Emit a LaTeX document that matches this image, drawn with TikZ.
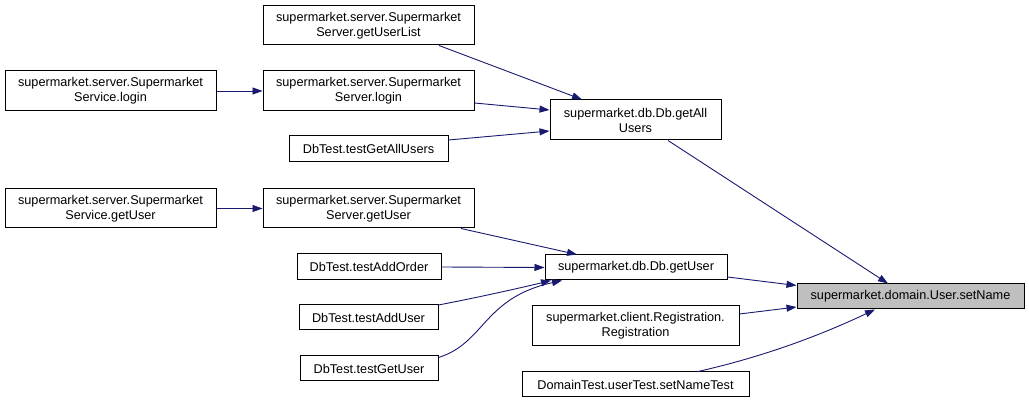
\documentclass[tikz,border=0pt]{standalone}
\usepackage{fontspec}
\setmainfont{Liberation Sans}
\usetikzlibrary{arrows.meta}
\definecolor{edgec}{HTML}{191970}
\definecolor{hl}{HTML}{BFBFBF}
\tikzset{
  box/.style={draw=black, line width=1pt, fill=white, inner sep=0pt, align=center,
    font=\fontsize{12.7}{15}\selectfont},
  cur/.style={box, fill=hl},
  edge/.style={draw=edgec, line width=0.9pt, -{Triangle[length=10pt,width=7pt]}},
}
\begin{document}
\begin{tikzpicture}[x=1pt,y=-1pt]
\useasboundingbox[fill=white] (0,0) rectangle (1029,403);
\node[box, minimum width=211pt, minimum height=39pt] (getUserList) at (368.5,25.5) {supermarket.server.Supermarket\\Server.getUserList};
\node[box, minimum width=211pt, minimum height=40pt] (srvLogin) at (368.5,91) {supermarket.server.Supermarket\\Server.login};
\node[box, minimum width=211pt, minimum height=40pt] (svcLogin) at (110.5,91) {supermarket.server.Supermarket\\Service.login};
\node[box, minimum width=159pt, minimum height=26pt] (tGetAll) at (368.5,149) {DbTest.testGetAllUsers};
\node[box, minimum width=211pt, minimum height=39pt] (svcGetUser) at (110.5,208.5) {supermarket.server.Supermarket\\Service.getUser};
\node[box, minimum width=211pt, minimum height=39pt] (srvGetUser) at (368.5,208.5) {supermarket.server.Supermarket\\Server.getUser};
\node[box, minimum width=144pt, minimum height=26pt] (tAddOrder) at (369,267) {DbTest.testAddOrder};
\node[box, minimum width=139pt, minimum height=25pt] (tAddUser) at (368.5,317.5) {DbTest.testAddUser};
\node[box, minimum width=138pt, minimum height=25pt] (tGetUser) at (369,368.5) {DbTest.testGetUser};
\node[box, minimum width=171pt, minimum height=40pt] (getAllUsers) at (635.5,120) {supermarket.db.Db.getAll\\Users};
\node[box, minimum width=182pt, minimum height=25pt] (dbGetUser) at (636,267.5) {supermarket.db.Db.getUser};
\node[cur, minimum width=227pt, minimum height=25pt] (setName) at (910.5,296.5) {supermarket.domain.User.setName};
\node[box, minimum width=207pt, minimum height=40pt] (registration) at (635.5,326) {supermarket.client.Registration.\\Registration};
\node[box, minimum width=227pt, minimum height=25pt] (domainTest) at (635.5,384.5) {DomainTest.userTest.setNameTest};

\draw[edge] ([xshift=70.5pt]getUserList.south) -- ([xshift=-53.5pt]getAllUsers.north);
\draw[edge] ([yshift=-12pt]srvLogin.east) -- ([yshift=10pt]getAllUsers.west);
\draw[edge] ([yshift=9pt]tGetAll.east) -- ([yshift=-11pt]getAllUsers.west);
\draw[edge] (svcLogin.east) -- (srvLogin.west);
\draw[edge] (svcGetUser.east) -- (srvGetUser.west);
\draw[edge] ([xshift=92.5pt]srvGetUser.south) -- ([xshift=-59pt]dbGetUser.north);
\draw[edge] (tAddOrder.east) -- (dbGetUser.west);
\draw[edge] ([yshift=12.5pt]tAddUser.east) .. controls (480,297) and (520,288) .. ([xshift=-85pt]dbGetUser.south);
\draw[edge] ([yshift=11pt]tGetUser.east) .. controls (485,343) and (483,298) .. ([xshift=-74pt]dbGetUser.south);
\draw[edge] ([xshift=32.5pt]getAllUsers.south) -- ([xshift=-22.5pt]setName.north);
\draw[edge] ([yshift=-9.5pt]dbGetUser.east) -- ([yshift=11pt]setName.west);
\draw[edge] ([yshift=12pt]registration.east) -- ([yshift=-10.5pt]setName.west);
\draw[edge] ([xshift=62.5pt]domainTest.north) .. controls (740,362) and (800,345) .. ([xshift=-35.5pt]setName.south);
\end{tikzpicture}
\end{document}
